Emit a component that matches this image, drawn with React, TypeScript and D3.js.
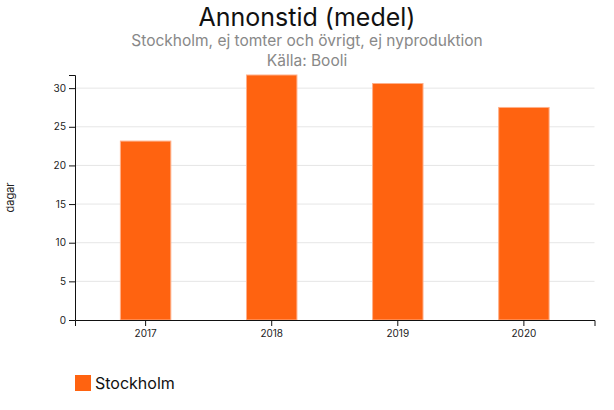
import React, { useEffect, useRef } from 'react';
import * as d3 from 'd3';

const years = ['2017', '2018', '2019', '2020'];
const annonstid = [23.15, 31.7, 30.6, 27.5];
const yTicks = [0, 5, 10, 15, 20, 25, 30];

const W = 614;
const H = 410;
const FONT = 'Inter, "Noto Sans", sans-serif';

export default function App() {
  const ref = useRef<SVGSVGElement>(null);

  useEffect(() => {
    if (!ref.current) return;
    const svg = d3.select(ref.current);
    svg.selectAll('*').remove();

    const m = { top: 75, right: 19.5, bottom: 90, left: 75 };
    const x = d3.scaleBand<string>()
      .domain(years)
      .range([m.left, W - m.right])
      .paddingInner(0.6)
      .paddingOuter(0.36);
    const y = d3.scaleLinear()
      .domain([0, d3.max(annonstid) ?? 0])
      .range([H - m.bottom, m.top]);

    // titles
    svg.append('text')
      .attr('x', W / 2).attr('y', 26)
      .attr('text-anchor', 'middle')
      .attr('font-family', FONT).attr('font-size', 25)
      .attr('fill', '#111')
      .text('Annonstid (medel)');
    svg.append('text')
      .attr('x', W / 2).attr('y', 46)
      .attr('text-anchor', 'middle')
      .attr('font-family', FONT).attr('font-size', 15.5)
      .attr('fill', '#888')
      .text('Stockholm, ej tomter och övrigt, ej nyproduktion');
    svg.append('text')
      .attr('x', W / 2).attr('y', 66)
      .attr('text-anchor', 'middle')
      .attr('font-family', FONT).attr('font-size', 15.5)
      .attr('fill', '#888')
      .text('Källa: Booli');

    // grid
    svg.append('g')
      .selectAll('line')
      .data(yTicks.filter((t) => t > 0))
      .join('line')
      .attr('x1', m.left).attr('x2', W - m.right)
      .attr('y1', (d) => y(d)).attr('y2', (d) => y(d))
      .attr('stroke', '#e6e6e6').attr('stroke-width', 1);

    // bars
    svg.append('g')
      .selectAll('rect')
      .data(years)
      .join('rect')
      .attr('x', (d) => x(d) ?? 0)
      .attr('width', x.bandwidth())
      .attr('y', (_, i) => y(annonstid[i]))
      .attr('height', (_, i) => y(0) - y(annonstid[i]))
      .attr('fill', '#ff6310')
      .attr('stroke', '#ffb08a')
      .attr('stroke-width', 1);

    // axes
    const yAxis = svg.append('g')
      .attr('transform', `translate(${m.left},0)`)
      .call(d3.axisLeft(y).tickValues(yTicks).tickSize(6).tickPadding(3));
    const xAxis = svg.append('g')
      .attr('transform', `translate(0,${H - m.bottom})`)
      .call(d3.axisBottom(x).tickSize(6).tickPadding(4));
    [yAxis, xAxis].forEach((g) => {
      g.selectAll('text')
        .attr('font-family', FONT)
        .attr('font-size', 10)
        .attr('fill', '#222');
      g.selectAll('path, line').attr('stroke', '#111');
    });

    svg.append('text')
      .attr('transform', `translate(14,${(y(0) + y(d3.max(annonstid) ?? 0)) / 2}) rotate(-90)`)
      .attr('text-anchor', 'middle')
      .attr('font-family', FONT).attr('font-size', 11)
      .attr('fill', '#222')
      .text('dagar');

    // legend
    const lg = svg.append('g').attr('transform', 'translate(75,375)');
    lg.append('rect').attr('width', 16).attr('height', 16).attr('fill', '#ff6310');
    lg.append('text')
      .attr('x', 20).attr('y', 13.5)
      .attr('font-family', FONT).attr('font-size', 16)
      .attr('fill', '#111')
      .text('Stockholm');
  }, []);

  return (
    <svg
      ref={ref}
      width={W}
      height={H}
      style={{ position: 'absolute', left: 0, top: 0, background: '#fff' }}
    />
  );
}
